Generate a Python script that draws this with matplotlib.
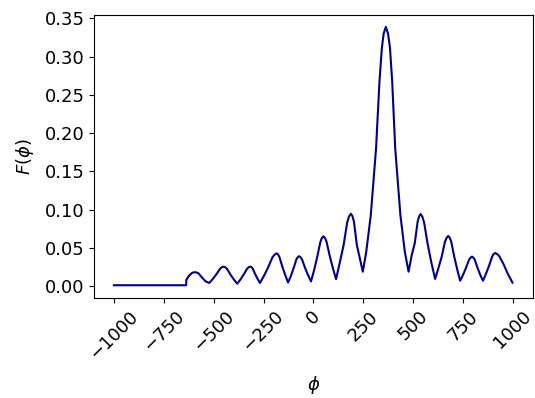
import matplotlib
matplotlib.use("Agg")
import matplotlib.pyplot as plt
import numpy as np

# phi / F(phi) values
phi = [-1000, -638, -637, -625, -610, -603, -594, -585, -576, -558, -540, -522,
       -504, -486, -468, -459, -450, -441.5, -433, -416, -399, -382,
       -365.5, -349, -332.5, -324, -316, -310, -304, -292, -280, -268,
       -247, -226, -205, -194.5, -184, -177, -170, -155.5, -141, -127,
       -113, -99.5, -86, -79, -72, -64.5, -57, -42, -27, -12,
       3.5, 19, 34.5, 42, 50, 58, 66, 82, 98, 113.6,
       132, 151, 169.5, 178.5, 188, 195.5, 203, 217.5, 232, 247.5,
       265, 287.6, 314, 331, 343, 352, 363, 374, 384, 395, 410, 436, 458, 477,
       492.5, 508, 522.5, 530, 537, 546, 555, 572, 591, 610,
       626.5, 643, 659.5, 668, 676, 683.5, 691, 706, 721, 735.5,
       750.5, 765, 780, 787.5, 795, 802, 809, 822.5, 836, 850,
       865, 880.5, 896, 903.5, 911, 921.5, 932, 953, 974, 998]
F = [0.001, 0.001, 0.008, 0.013, 0.0168, 0.0177, 0.018, 0.0177, 0.0165, 0.011, 0.006, 0.004,
     0.0093, 0.0155, 0.0225, 0.0245, 0.0253, 0.0245, 0.0224, 0.0150, 0.0086, 0.003,
     0.0086, 0.0152, 0.0226, 0.0246, 0.0255, 0.0247, 0.0227, 0.0156, 0.0094, 0.004,
     0.0137, 0.0249, 0.0377, 0.0411, 0.0427, 0.0412, 0.0377, 0.0251, 0.0141, 0.0045,
     0.0131, 0.0231, 0.0345, 0.0376, 0.039, 0.0377, 0.0347, 0.0238, 0.0143, 0.006,
     0.0208, 0.0379, 0.0573, 0.0626, 0.065, 0.0628, 0.0577, 0.0392, 0.023, 0.009,
     0.0304, 0.053, 0.0834, 0.091, 0.0945, 0.0914, 0.0846, 0.054, 0.037, 0.0187,
     0.045, 0.0928, 0.180, 0.267, 0.311, 0.330, 0.339, 0.330, 0.311, 0.267, 0.180, 0.0928, 0.045, 0.0187,
     0.040, 0.056, 0.0843, 0.0911, 0.0941, 0.0907, 0.0830, 0.0558, 0.0310, 0.0092,
     0.0233, 0.0383, 0.0581, 0.0631, 0.0654, 0.0631, 0.0578, 0.0383, 0.0215, 0.0069,
     0.0148, 0.0239, 0.0343, 0.0371, 0.0384, 0.0371, 0.0343, 0.0239, 0.0148, 0.0069,
     0.0160, 0.0265, 0.0385, 0.0417, 0.0432, 0.0417, 0.0389, 0.0286, 0.0162, 0.0044]

fig = plt.figure(figsize=(5.35, 3.98), dpi=100)
ax = fig.add_axes([0.176, 0.252, 0.82, 0.71])
ax.plot(phi, F, color="#00008b", lw=1.5)

ax.set_xlim(-1099, 1100)
ax.set_ylim(-0.0153, 0.3543)
ax.set_xticks([-1000, -750, -500, -250, 0, 250, 500, 750, 1000])
ax.set_yticks(np.arange(0, 0.36, 0.05))
ax.tick_params(labelsize=13)
plt.setp(ax.get_xticklabels(), rotation=45)
ax.set_xlabel(r"$\phi$", fontsize=13, labelpad=8)
ax.set_ylabel(r"$F(\phi)$", fontsize=13, labelpad=6)

fig.savefig("out.png", dpi=100)
